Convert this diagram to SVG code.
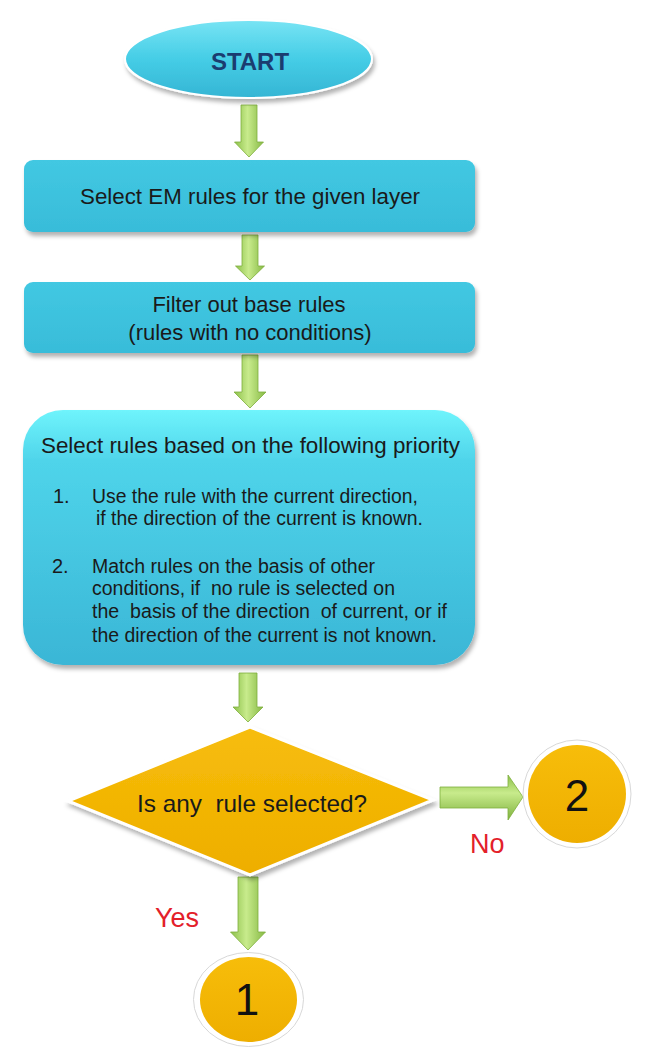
<svg xmlns="http://www.w3.org/2000/svg" width="651" height="1060" viewBox="0 0 651 1060">
<style>
.t{font-family:"Liberation Sans",Arial,sans-serif;fill:#1a1a1a}
.pre{white-space:pre}
.red{font-family:"Liberation Sans",Arial,sans-serif;fill:#e3202a;font-size:27px}
.num{font-family:"Liberation Sans",Arial,sans-serif;fill:#111;font-size:44px;text-anchor:middle}
.arr{fill:url(#gv);stroke:#7fae3c;stroke-width:0.8}
</style>
<defs>
<linearGradient id="gv" x1="0" y1="0" x2="1" y2="0">
<stop offset="0" stop-color="#8cc04a"/><stop offset="0.45" stop-color="#c8eb8c"/><stop offset="1" stop-color="#86b944"/>
</linearGradient>
<linearGradient id="gh" x1="0" y1="0" x2="0" y2="1">
<stop offset="0" stop-color="#8cc04a"/><stop offset="0.4" stop-color="#c8eb8c"/><stop offset="1" stop-color="#7fb23e"/>
</linearGradient>
<linearGradient id="gstart" x1="0" y1="0" x2="0" y2="1">
<stop offset="0" stop-color="#78e4f4"/><stop offset="0.5" stop-color="#45cde6"/><stop offset="1" stop-color="#35b5d4"/>
</linearGradient>
<linearGradient id="gbox" x1="0" y1="0" x2="0" y2="1">
<stop offset="0" stop-color="#42c8e2"/><stop offset="1" stop-color="#38bcd9"/>
</linearGradient>
<linearGradient id="gbig" x1="0" y1="0" x2="0" y2="1">
<stop offset="0" stop-color="#6ff4fc"/><stop offset="0.2" stop-color="#4fd4ea"/><stop offset="1" stop-color="#3ab6d6"/>
</linearGradient>
<linearGradient id="gorange" x1="0" y1="0" x2="0" y2="1">
<stop offset="0" stop-color="#f7bd0a"/><stop offset="1" stop-color="#eeae00"/>
</linearGradient>
<filter id="sh" x="-10%" y="-10%" width="125%" height="130%">
<feDropShadow dx="2" dy="4" stdDeviation="2" flood-color="#000" flood-opacity="0.3"/>
</filter>
</defs>

<g id="connectors">
<polygon class="arr" points="241,105 257,105 257,142 263.5,142 249,157 234.5,142 241,142"/>
<polygon class="arr" points="242,235 258,235 258,266 264.5,266 250,280 235.5,266 242,266"/>
<polygon class="arr" points="242,355 258,355 258,392 266,392 250,408 234,392 242,392"/>
<polygon class="arr" points="239,673 257,673 257,707 263,707 248,722 233,707 239,707"/>
<polygon class="arr" points="238,877 258,877 258,932 265.5,932 248,950 230.5,932 238,932"/>
<polygon points="440,787 508,787 508,775 523,797 508,820 508,808 440,808" fill="url(#gh)" stroke="#7fae3c" stroke-width="0.8"/>
<text class="red" x="470" y="853">No</text>
<text class="red" x="155" y="927">Yes</text>
</g>

<g id="start">
<ellipse cx="248.5" cy="59" rx="123.5" ry="39" fill="url(#gstart)" stroke="#ffffff" stroke-width="2" filter="url(#sh)"/>
<text class="t" x="250" y="70" text-anchor="middle" font-size="24" font-weight="bold" style="fill:#1b3c70">START</text>
</g>

<g id="select-em">
<rect x="24" y="160" width="451" height="72" rx="9" fill="url(#gbox)" filter="url(#sh)"/>
<text class="t" x="80" y="204" font-size="22" textLength="340" lengthAdjust="spacingAndGlyphs">Select EM rules for the given layer</text>
</g>

<g id="filter-base">
<rect x="24" y="282" width="451" height="71" rx="9" fill="url(#gbox)" filter="url(#sh)"/>
<text class="t" x="249" y="312" font-size="22" text-anchor="middle">Filter out base rules</text>
<text class="t" x="250" y="340" font-size="22" text-anchor="middle">(rules with no conditions)</text>
</g>

<g id="select-priority">
<rect x="23" y="410" width="452" height="255" rx="40" fill="url(#gbig)" filter="url(#sh)"/>
<text class="t pre" x="41" y="453" font-size="22" textLength="419" lengthAdjust="spacingAndGlyphs">Select rules based on the following priority</text>
<text class="t" x="53" y="503" font-size="20">1.</text>
<text class="t" x="92" y="503" font-size="20" textLength="326" lengthAdjust="spacingAndGlyphs">Use the rule with the current direction,</text>
<text class="t" x="96" y="525" font-size="20" textLength="327" lengthAdjust="spacingAndGlyphs">if the direction of the current is known.</text>
<text class="t" x="52" y="573" font-size="20">2.</text>
<text class="t" x="92" y="573" font-size="20" textLength="283" lengthAdjust="spacingAndGlyphs">Match rules on the basis of other</text>
<text class="t pre" x="92" y="595" font-size="20" textLength="303" lengthAdjust="spacingAndGlyphs">conditions, if  no rule is selected on</text>
<text class="t pre" x="92" y="618" font-size="20" textLength="355" lengthAdjust="spacingAndGlyphs">the  basis of the direction  of current, or if</text>
<text class="t" x="92" y="642" font-size="20" textLength="345" lengthAdjust="spacingAndGlyphs">the direction of the current is not known.</text>
</g>

<g id="decision">
<polygon points="250,727 433,800 250,875 68,801" fill="url(#gorange)" stroke="#ffffff" stroke-width="3" filter="url(#sh)"/>
<text class="t pre" x="137" y="812" font-size="24" textLength="230" lengthAdjust="spacingAndGlyphs">Is any  rule selected?</text>
</g>

<g id="connector-2">
<circle cx="577" cy="794" r="54" fill="#ffffff" stroke="#d8d8d8" stroke-width="1"/>
<circle cx="577" cy="794" r="49" fill="url(#gorange)"/>
<text class="num" x="577" y="811">2</text>
</g>

<g id="connector-1">
<ellipse cx="248.5" cy="999.5" rx="55" ry="47" fill="#ffffff" stroke="#d8d8d8" stroke-width="1"/>
<ellipse cx="248.5" cy="999.5" rx="48.5" ry="42.5" fill="url(#gorange)"/>
<text class="num" x="247" y="1015">1</text>
</g>
</svg>
